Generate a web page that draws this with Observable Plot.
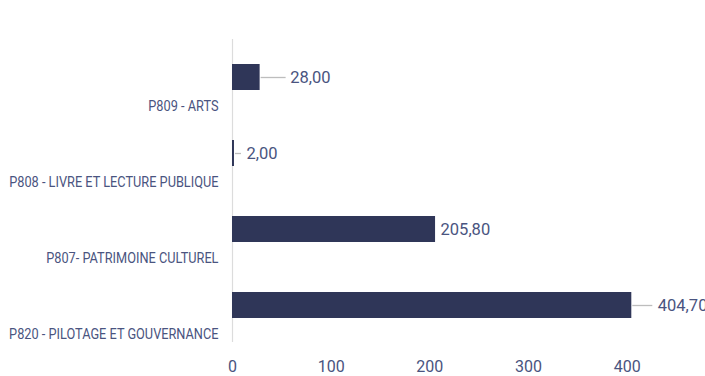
<!DOCTYPE html>
<html>
<head>
<meta charset="utf-8">
<script src="https://cdn.jsdelivr.net/npm/d3@7"></script>
<script src="https://cdn.jsdelivr.net/npm/@observablehq/plot@0.6"></script>
<style>
  html, body { margin: 0; padding: 0; background: #ffffff; }
  #chart svg { display: block; background: #ffffff; }
</style>
</head>
<body>
<div id="chart"></div>
<script>
// ---- data ----
const categories = [
  "P809 - ARTS",
  "P808 - LIVRE ET LECTURE PUBLIQUE",
  "P807- PATRIMOINE CULTUREL",
  "P820 - PILOTAGE ET GOUVERNANCE"
];
const values = [28.00, 2.00, 205.80, 404.70];
const xTicks = [0, 100, 200, 300, 400];

// ---- build table ----
const data = categories.map((c, i) => ({category: c, value: values[i]}));

// ---- styles ----
const barColor = "#2f3658";
const textColor = "#4a5480";
const leaderColor = "#bdbdbd";
const fmt = v => d3.format(".2f")(v).replace(".", ",");

// label placement per bar (px offsets after the bar end): [leaderStart, leaderEnd, textStart]
const labelLayout = [[1, 26, 30], [1, 7, 12], null, [1, 21, 26]];
const textDx = [30, 12, 5, 26];

const leaderMarks = data.map((d, i) => labelLayout[i]
  ? Plot.ruleY([d], {
      y: "category", x1: "value", x2: "value",
      insetLeft: labelLayout[i][0], insetRight: -labelLayout[i][1],
      stroke: leaderColor, strokeWidth: 1.3
    })
  : null).filter(Boolean);

const valueMarks = data.map((d, i) => Plot.text([d], {
  y: "category", x: "value", text: d => fmt(d.value),
  dx: textDx[i], textAnchor: "start", fill: textColor,
  fontSize: 16.5, fontFamily: "Roboto"
}));

const chart = Plot.plot({
  width: 705,
  height: 376,
  marginTop: 39,
  marginBottom: 34,
  marginLeft: 232,
  marginRight: 29,
  style: {fontFamily: "Roboto", background: "#ffffff"},
  x: {domain: [0, 450], ticks: xTicks, label: null},
  y: {domain: categories, range: [63, 318], paddingInner: 0.66, paddingOuter: 0, axis: null},
  marks: [
    Plot.ruleX([0], {stroke: "#dcdcdc", strokeWidth: 1.2}),
    Plot.barX(data, {y: "category", x: "value", fill: barColor}),
    ...leaderMarks,
    ...valueMarks,
    Plot.text(data, {
      y: "category", x: 0, text: "category", textAnchor: "end",
      dx: -14, dy: 29, fill: textColor, fontSize: 15, fontFamily: "Roboto",
      className: "cat-label"
    }),
    Plot.axisX({
      ticks: xTicks, tickSize: 0, tickPadding: 18, label: null,
      fontSize: 16, fill: textColor, tickFormat: d => String(d)
    })
  ]
});

document.getElementById("chart").appendChild(chart);

// condensed look for the category labels
d3.select(chart).selectAll(".cat-label text").each(function() {
  const w = this.getComputedTextLength();
  this.setAttribute("textLength", (w * 0.85).toFixed(1));
  this.setAttribute("lengthAdjust", "spacingAndGlyphs");
});
</script>
</body>
</html>
